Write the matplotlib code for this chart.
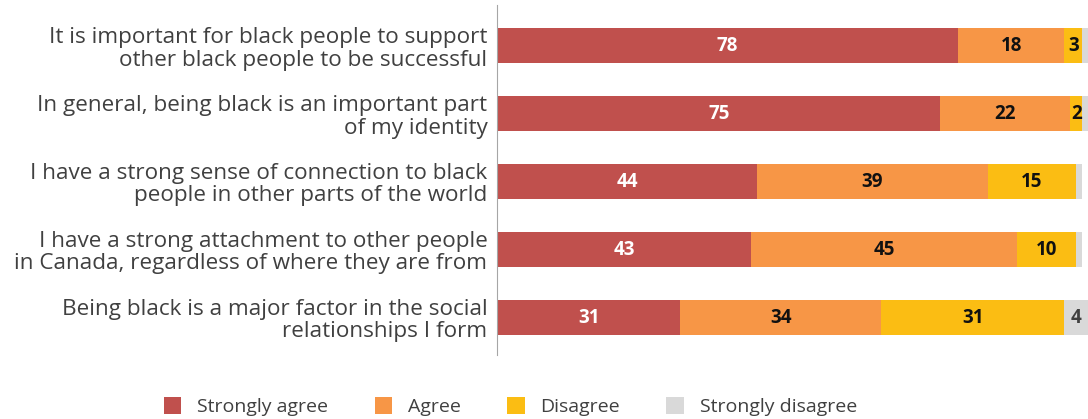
import matplotlib.pyplot as plt
import numpy as np

plt.rcParams["font.family"] = ["Open Sans", "DejaVu Sans"]

statements = [
    "It is important for black people to support\nother black people to be successful",
    "In general, being black is an important part\nof my identity",
    "I have a strong sense of connection to black\npeople in other parts of the world",
    "I have a strong attachment to other people\nin Canada, regardless of where they are from",
    "Being black is a major factor in the social\nrelationships I form",
]
series_names = ["Strongly agree", "Agree", "Disagree", "Strongly disagree"]
strongly_agree = [78, 75, 44, 43, 31]
agree = [18, 22, 39, 45, 34]
disagree = [3, 2, 15, 10, 31]
strongly_disagree = [1, 1, 1, 1, 4]

colors = ["#C0504D", "#F79646", "#FBBD13", "#D9D9D9"]
label_colors = ["white", "#111111", "#111111", "#404040"]

fig = plt.figure(figsize=(10.88, 4.19), dpi=100)
ax = fig.add_axes([0.457, 0.153, 0.543, 0.835])

y = np.arange(len(statements))
left = np.zeros(len(statements))
for name, vals, c, lc in zip(series_names,
                             [strongly_agree, agree, disagree, strongly_disagree],
                             colors, label_colors):
    vals = np.array(vals, dtype=float)
    ax.barh(y, vals, left=left, height=0.52, color=c, label=name)
    for yi, l, v in zip(y, left, vals):
        if v >= 2:
            ax.text(l + v / 2, yi, f"{int(v)}", ha="center", va="center",
                    fontsize=13.5, fontweight="bold", color=lc)
    left += vals

ax.set_xlim(0, 100)
ax.set_ylim(len(statements) - 0.45, -0.6)
ax.set_yticks(y)
ax.set_yticklabels(statements, fontsize=16.2, color="#404040", linespacing=1.08)
ax.tick_params(axis="y", length=0, pad=7)
ax.set_xticks([])
for s in ["top", "right", "bottom"]:
    ax.spines[s].set_visible(False)
ax.spines["left"].set_color("#A6A6A6")

fig.legend(loc="lower center", bbox_to_anchor=(0.469, -0.035), ncol=4,
           frameon=False, fontsize=14, handlelength=0.9, handleheight=0.9,
           columnspacing=2.4, handletextpad=0.8, labelcolor="#404040")

fig.savefig("out.png", dpi=100)
